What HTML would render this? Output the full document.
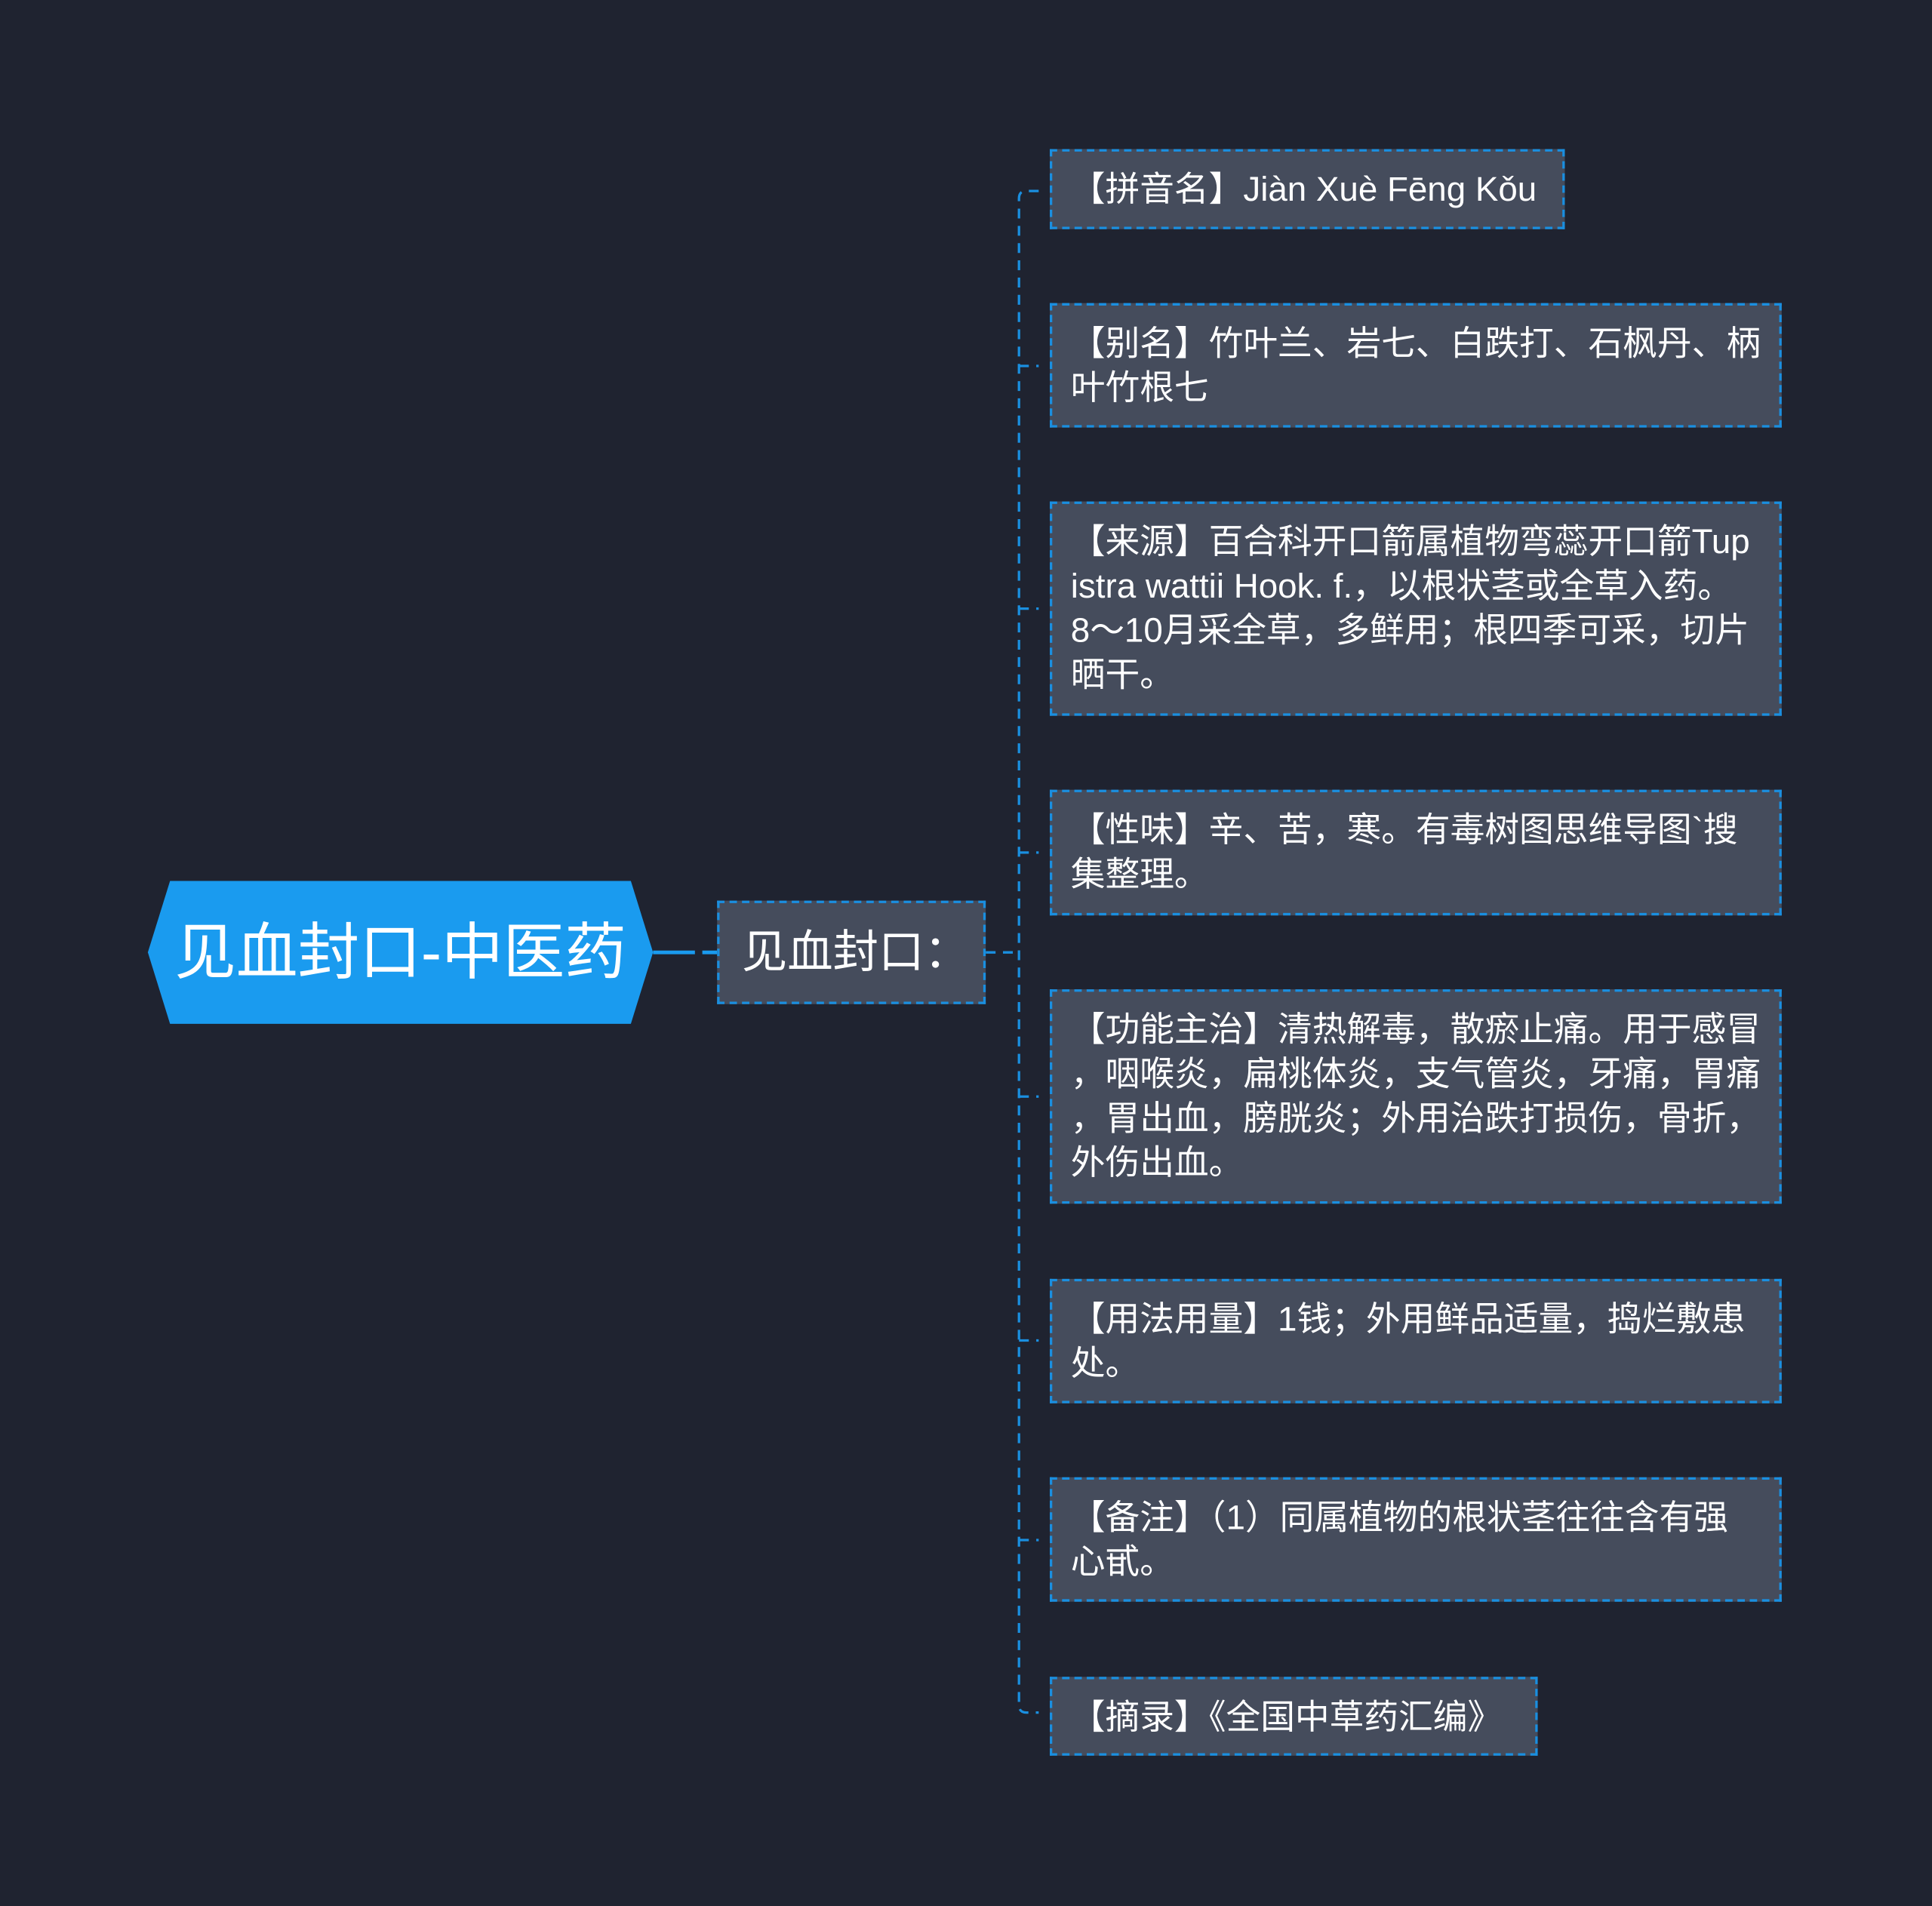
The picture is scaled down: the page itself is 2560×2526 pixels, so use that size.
<!DOCTYPE html>
<html><head><meta charset="utf-8"><style>
html,body{margin:0;padding:0;background:#1f2330;}
body{width:2560px;height:2526px;overflow:hidden;}
#c{position:absolute;left:0;top:0;width:1568px;height:1547px;transform:scale(1.63265,1.63284);transform-origin:0 0;font-family:"Liberation Sans","Noto Sans CJK SC",sans-serif;}
.n{position:absolute;box-sizing:border-box;background:#454c5c;border:2px dashed #1a8fe0;color:#fff;font-size:28px;line-height:36px;padding:13px 12px 10px 15px;word-break:break-all;line-break:anywhere;}
</style></head><body><div id="c">
<svg width="1568" height="1547" style="position:absolute;left:0;top:0">
<polygon points="138,715 512,715 530,773 512,831 138,831 120,773" fill="#1a9bef"/>
<line x1="530" y1="773" x2="582" y2="773" stroke="#1a9bef" stroke-width="3" stroke-dasharray="34,6"/>
<g fill="none" stroke="#1a8fe0" stroke-width="2" stroke-dasharray="8,6">
<line x1="800" y1="773" x2="827" y2="773"/>
<path d="M843,155 H833 Q827,155 827,161 V1384 Q827,1390 833,1390 H843"/>
<line x1="827" y1="297" x2="843" y2="297"/>
<line x1="827" y1="494" x2="843" y2="494"/>
<line x1="827" y1="692" x2="843" y2="692"/>
<line x1="827" y1="890" x2="843" y2="890"/>
<line x1="827" y1="1088" x2="843" y2="1088"/>
<line x1="827" y1="1250" x2="843" y2="1250"/>
</g>
</svg>
<div style="position:absolute;left:110px;top:715px;width:430px;height:116px;line-height:116px;text-align:center;color:#fff;font-size:50px;white-space:nowrap;">见血封口-中医药</div>
<div class="n" style="left:582px;top:731px;width:218px;height:84px;font-size:37px;line-height:60px;padding:10px 18px;white-space:nowrap;">见血封口：</div>
<div class="n" style="left:852px;top:121px;width:418px;height:65px;white-space:nowrap;">【拼音名】Jiàn Xuè Fēng Kǒu</div>
<div class="n" style="left:852px;top:246px;width:594px;height:101px;">【别名】竹叶兰、岩七、白跌打、石枫丹、柄叶竹根七</div>
<div class="n" style="left:852px;top:407px;width:594px;height:174px;">【来源】百合科开口箭属植物弯蕊开口箭Tup<br>istra wattii Hook. f.，以根状茎或全草入药。<br>8～10月采全草，多鲜用；根四季可采，切片<br>晒干。</div>
<div class="n" style="left:852px;top:641px;width:594px;height:102px;">【性味】辛、苦，寒。有毒树图思维导图`搜集整理。</div>
<div class="n" style="left:852px;top:803px;width:594px;height:174px;">【功能主治】清热解毒，散瘀止痛。用于感冒<br>，咽喉炎，扁桃体炎，支气管炎，牙痛，胃痛<br>，胃出血，膀胱炎；外用治跌打损伤，骨折，<br>外伤出血。</div>
<div class="n" style="left:852px;top:1038px;width:594px;height:101px;">【用法用量】1钱；外用鲜品适量，捣烂敷患<br>处。</div>
<div class="n" style="left:852px;top:1199px;width:594px;height:101px;">【备注】（1）同属植物的根状茎往往含有强<br>心甙。</div>
<div class="n" style="left:852px;top:1361px;width:396px;height:64px;white-space:nowrap;">【摘录】《全国中草药汇编》</div>
</div></body></html>
